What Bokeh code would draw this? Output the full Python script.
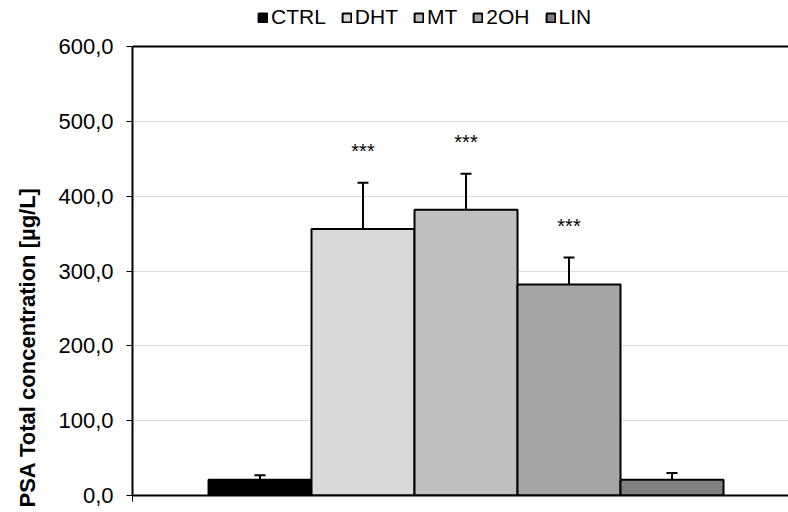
import math
from bokeh.plotting import figure
from bokeh.models import (Range1d, FixedTicker, Legend, LegendItem,
                          ColumnDataSource, Whisker, TeeHead, Title, Span)
from bokeh.core.properties import value
from bokeh.embed import file_html
from bokeh.resources import INLINE

# ---- data ----
categories = ["CTRL", "DHT", "MT", "2OH", "LIN"]
values = [21, 356, 382, 282, 21]
errors = [6, 62, 48, 36, 9]
significance = ["", "***", "***", "***", ""]
colors = ["#000000", "#d9d9d9", "#bfbfbf", "#a6a6a6", "#808080"]
y_ticks = [0, 100, 200, 300, 400, 500, 600]
y_tick_labels = ["0,0", "100,0", "200,0", "300,0", "400,0", "500,0", "600,0"]
y_title = "PSA Total concentration [µg/L]"

FONT = "Liberation Sans"
Y_MAX = 600
Y_HEADROOM = 61.5   # space above the plot area for the legend

xs = list(range(len(categories)))
src = ColumnDataSource(dict(
    x=xs, base=values, err=[v + e for v, e in zip(values, errors)],
    sig=significance, sig_y=[v + e + 42 for v, e in zip(values, errors)],
))

p = figure(width=788, height=512, output_backend="svg", toolbar_location=None,
           x_range=Range1d(-1.238, 5.131), y_range=Range1d(0, Y_MAX + Y_HEADROOM),
           min_border_left=132, min_border_right=0, min_border_top=0,
           min_border_bottom=17, background_fill_color="white",
           border_fill_color="white")
p.outline_line_color = None

renderers = []
for i in xs:
    r = p.vbar(x=[xs[i]], top=[values[i]], width=1.0, bottom=0,
               fill_color=colors[i], line_color="black", line_width=2)
    renderers.append(r)

w = Whisker(source=src, base="x", lower="base", upper="err",
            line_color="black", line_width=2,
            upper_head=TeeHead(size=11, line_color="black", line_width=2),
            lower_head=None)
p.add_layout(w)

p.text(x="x", y="sig_y", text="sig", source=src, text_align="center",
       text_baseline="middle", text_font=value(FONT), text_font_size="20px",
       text_color="black")

# axes
yax = p.yaxis[0]
yax.ticker = FixedTicker(ticks=y_ticks)
yax.bounds = (0, Y_MAX)
yax.major_label_overrides = {t: l for t, l in zip(y_ticks, y_tick_labels)}
yax.axis_line_color = "black"
yax.axis_line_width = 2
yax.major_tick_line_color = "black"
yax.major_tick_line_width = 1
yax.major_tick_out = 6
yax.major_tick_in = 0
yax.minor_tick_line_color = None
yax.major_label_text_font = FONT
yax.major_label_text_font_size = "22px"
yax.major_label_text_color = "black"
yax.major_label_standoff = 13

xax = p.xaxis[0]
xax.ticker = FixedTicker(ticks=[-1.238])
xax.axis_line_color = "black"
xax.axis_line_width = 2
xax.major_tick_line_color = "black"
xax.major_tick_out = 6
xax.major_tick_in = 0
xax.minor_tick_line_color = None
xax.major_label_overrides = {-1.238: " "}
xax.major_label_text_font_size = "1px"

p.xgrid.grid_line_color = None
p.ygrid.grid_line_color = "#d9d9d9"
p.ygrid.grid_line_width = 1
p.ygrid.ticker = FixedTicker(ticks=y_ticks[1:-1])

# top border of the plot area
p.add_layout(Span(location=Y_MAX, dimension="width", line_color="black", line_width=2))

# y-axis title (left panel, aligned towards the bottom)
p.add_layout(Title(text=y_title, align="left", vertical_align="top", offset=-12,
                   standoff=27, text_font=FONT, text_font_size="22px",
                   text_font_style="bold", text_color="black"), "left")

legend = Legend(items=[LegendItem(label=c, renderers=[r]) for c, r in zip(categories, renderers)],
                orientation="horizontal", location=(125, 466),
                glyph_width=11, glyph_height=11, label_standoff=3, spacing=15,
                label_text_font=FONT, label_text_font_size="21px",
                label_text_color="black", padding=0, margin=0,
                border_line_color=None, background_fill_alpha=0)
p.add_layout(legend, "center")

open("out.html", "w").write(file_html(p, INLINE))
